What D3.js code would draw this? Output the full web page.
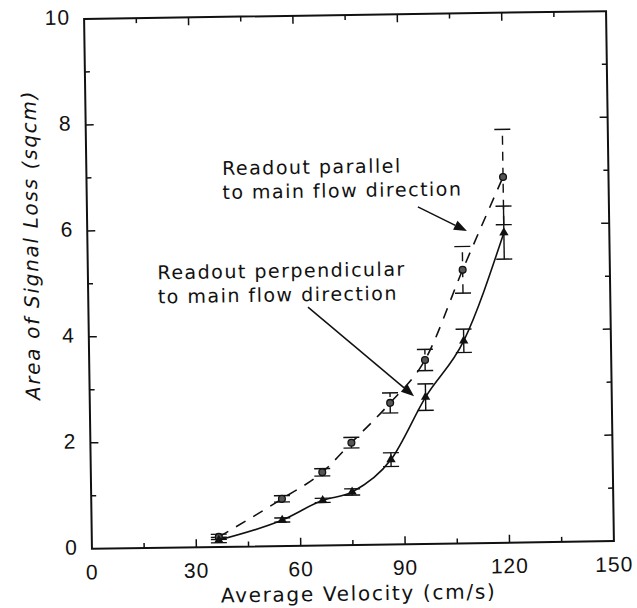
<!DOCTYPE html>
<html>
<head>
<meta charset="utf-8">
<script src="https://cdn.jsdelivr.net/npm/d3@7"></script>
<style>
  html, body { margin: 0; padding: 0; background: #fff; }
  svg { display: block; }
</style>
</head>
<body>
<div id="chart"></div>
<script>
// velocity (cm/s) shared by both readouts
const velocity = [36.5, 54.8, 66.5, 75, 86.3, 96.5, 107.7, 119.7];
// readout parallel to main flow (dashed, circles)
const parallelArea = [0.19, 0.89, 1.38, 1.93, 2.67, 3.47, 5.16, 6.9];
const parallelErr = [0.05, 0.06, 0.07, 0.1, 0.19, 0.2, 0.44, 0.9];
// readout perpendicular to main flow (solid, triangles)
const perpArea = [0.13, 0.49, 0.85, 1.0, 1.6, 2.77, 3.82, 5.85];
const perpErr = [0.05, 0.04, 0.04, 0.06, 0.13, 0.25, 0.22, 0.5];

const xTicks = [0, 30, 60, 90, 120, 150];
const xMinor = [15, 45, 75, 105, 135];
const yTicks = [0, 2, 4, 6, 8, 10];
const yMinor = [1, 3, 5, 7, 9];

const W = 637, H = 608;
const m = { left: 88, top: 15 };
const pw = 522, ph = 530;
const tilt = -0.85; // the scan is slightly rotated

const svg = d3.select('#chart').append('svg')
  .attr('width', W).attr('height', H)
  .style('background', '#fff');

const g = svg.append('g')
  .attr('transform', `rotate(${tilt},${m.left + pw/2},${m.top + ph/2}) translate(${m.left},${m.top})`);

const x = d3.scaleLinear().domain([0, 150]).range([0, pw]);
const y = d3.scaleLinear().domain([0, 10]).range([ph, 0]);

// frame
g.append('rect').attr('width', pw).attr('height', ph)
  .attr('fill', 'none').attr('stroke', '#111').attr('stroke-width', 2);

// ticks (inward on all four sides)
const tk = g.append('g').attr('stroke', '#111').attr('stroke-width', 1.5);
xTicks.slice(1, -1).forEach(v => {
  tk.append('line').attr('x1', x(v)).attr('x2', x(v)).attr('y1', ph).attr('y2', ph - 8);
  tk.append('line').attr('x1', x(v)).attr('x2', x(v)).attr('y1', 0).attr('y2', 8);
});
xMinor.forEach(v => {
  tk.append('line').attr('x1', x(v)).attr('x2', x(v)).attr('y1', ph).attr('y2', ph - 5);
  tk.append('line').attr('x1', x(v)).attr('x2', x(v)).attr('y1', 0).attr('y2', 5);
});
yTicks.slice(1, -1).forEach(v => {
  tk.append('line').attr('y1', y(v)).attr('y2', y(v)).attr('x1', 0).attr('x2', 8);
  tk.append('line').attr('y1', y(v)).attr('y2', y(v)).attr('x1', pw).attr('x2', pw - 8);
});
yMinor.forEach(v => {
  tk.append('line').attr('y1', y(v)).attr('y2', y(v)).attr('x1', 0).attr('x2', 5);
  tk.append('line').attr('y1', y(v)).attr('y2', y(v)).attr('x1', pw).attr('x2', pw - 5);
});

// tick labels
const tickFont = 'Liberation Sans, Arial, sans-serif';
g.append('g').selectAll('text').data(xTicks).enter().append('text')
  .attr('x', d => x(d)).attr('y', ph + 25)
  .attr('text-anchor', 'middle').attr('dominant-baseline', 'middle')
  .attr('font-family', tickFont).attr('font-size', 21).attr('fill', '#111')
  .attr('letter-spacing', 1)
  .text(d => d);
g.append('g').selectAll('text').data(yTicks).enter().append('text')
  .attr('x', -14).attr('y', d => y(d))
  .attr('text-anchor', 'end').attr('dominant-baseline', 'middle')
  .attr('font-family', tickFont).attr('font-size', 21).attr('fill', '#111')
  .attr('letter-spacing', 1)
  .text(d => d);

// axis titles
const titleFont = 'DejaVu Sans, sans-serif';
g.append('text')
  .attr('x', pw/2 + 5).attr('y', ph + 50)
  .attr('text-anchor', 'middle').attr('dominant-baseline', 'middle')
  .attr('font-family', titleFont).attr('font-size', 20).attr('fill', '#111')
  .attr('letter-spacing', 1.7)
  .text('Average Velocity (cm/s)');
g.append('text')
  .attr('transform', `translate(-55,${y(5.75)}) rotate(-90)`)
  .attr('text-anchor', 'middle').attr('dominant-baseline', 'middle')
  .attr('font-family', titleFont).attr('font-style', 'italic')
  .attr('font-size', 20).attr('fill', '#111')
  .attr('letter-spacing', 1.7)
  .text('Area of Signal Loss (sqcm)');

const par = velocity.map((v, i) => ({ v, a: parallelArea[i], e: parallelErr[i] }));
const per = velocity.map((v, i) => ({ v, a: perpArea[i], e: perpErr[i] }));

const line = d3.line().x(d => x(d.v)).y(d => y(d.a)).curve(d3.curveMonotoneX);

// curves
g.append('path').datum(per).attr('d', line)
  .attr('fill', 'none').attr('stroke', '#111').attr('stroke-width', 1.6);
g.append('path').datum(par).attr('d', line)
  .attr('fill', 'none').attr('stroke', '#111').attr('stroke-width', 1.6)
  .attr('stroke-dasharray', '11,9');

// error bars
function errorBars(data, dashed){
  const eb = g.append('g').attr('stroke', '#111').attr('stroke-width', 1.4);
  const cap = 8;
  data.forEach(d => {
    const l = eb.append('line').attr('x1', x(d.v)).attr('x2', x(d.v))
      .attr('y1', y(d.a - d.e)).attr('y2', y(d.a + d.e));
    if (dashed) l.attr('stroke-dasharray', '9,7');
    [d.a - d.e, d.a + d.e].forEach(t => {
      eb.append('line').attr('x1', x(d.v) - cap).attr('x2', x(d.v) + cap)
        .attr('y1', y(t)).attr('y2', y(t));
    });
  });
}
errorBars(par, true);
errorBars(per, false);

// markers
g.append('g').selectAll('circle').data(par).enter().append('circle')
  .attr('cx', d => x(d.v)).attr('cy', d => y(d.a)).attr('r', 3.4)
  .attr('fill', '#555').attr('stroke', '#111').attr('stroke-width', 1.3);
g.append('g').selectAll('path').data(per).enter().append('path')
  .attr('d', d3.symbol().type(d3.symbolTriangle).size(38))
  .attr('transform', d => `translate(${x(d.v)},${y(d.a)})`)
  .attr('fill', '#111');

// annotations
const notes = [
  { lines: ['Readout parallel', 'to main flow direction'], tx: 39, ty: 7.12, from: [95.1, 6.36], to: [109.1, 5.89] },
  { lines: ['Readout perpendicular', 'to main flow direction'], tx: 20, ty: 5.17, from: [63.1, 4.5], to: [93.2, 2.79] }
];
notes.forEach(n => {
  n.lines.forEach((t, i) => {
    g.append('text')
      .attr('x', x(n.tx)).attr('y', y(n.ty) + i * 24)
      .attr('dominant-baseline', 'middle')
      .attr('font-family', titleFont).attr('font-size', 19).attr('fill', '#111')
      .attr('letter-spacing', 1.5)
      .text(t);
  });
  const x1 = x(n.from[0]), y1 = y(n.from[1]), x2 = x(n.to[0]), y2 = y(n.to[1]);
  const ang = Math.atan2(y2 - y1, x2 - x1);
  const hl = 13, hw = 5;
  const bx = x2 - hl * Math.cos(ang), by = y2 - hl * Math.sin(ang);
  g.append('line').attr('x1', x1).attr('y1', y1).attr('x2', bx).attr('y2', by)
    .attr('stroke', '#111').attr('stroke-width', 1.5);
  g.append('path')
    .attr('d', `M${x2},${y2} L${bx + hw*Math.sin(ang)},${by - hw*Math.cos(ang)} L${bx - hw*Math.sin(ang)},${by + hw*Math.cos(ang)} Z`)
    .attr('fill', '#111');
});
</script>
</body>
</html>
